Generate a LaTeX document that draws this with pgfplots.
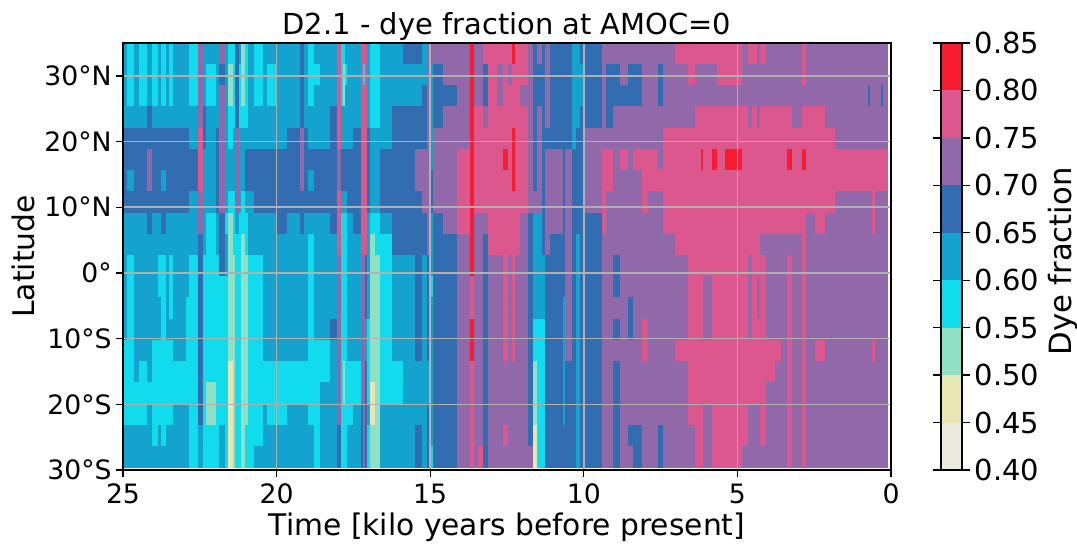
\documentclass[border=0pt]{standalone}
\usepackage{fontspec}
\setmainfont{DejaVu Sans}
\usepackage{pgfplots}
\usepackage{pgfplotstable}
\pgfplotsset{compat=1.18}
\definecolor{c0}{RGB}{234,235,222}
\definecolor{c1}{RGB}{232,230,179}
\definecolor{c2}{RGB}{143,224,196}
\definecolor{c3}{RGB}{16,220,238}
\definecolor{c4}{RGB}{20,162,206}
\definecolor{c5}{RGB}{49,109,176}
\definecolor{c6}{RGB}{145,105,171}
\definecolor{c7}{RGB}{220,87,142}
\definecolor{c8}{RGB}{248,28,48}
\definecolor{gridc}{RGB}{176,176,176}
\pgfplotstableread{
t r0 r1 r2 r3 r4 r5 r6 r7 r8 r9 r10 r11 r12 r13 r14 r15 r16 r17 r18 r19
25.00 62 62 62 62 67 67 67 67 62 62 62 62 62 62 57 57 57 57 62 62
24.87 57 57 57 62 67 67 62 67 62 62 57 57 57 57 57 57 57 57 62 62
24.64 62 62 62 62 67 67 67 67 62 62 62 62 62 62 62 62 57 57 62 62
24.48 57 57 57 62 67 67 67 67 62 62 62 62 62 62 62 57 57 57 62 62
24.22 62 62 62 67 67 72 72 67 67 62 62 62 62 62 62 62 57 62 62 62
24.06 57 57 57 62 67 67 67 67 62 62 62 62 62 62 57 57 57 57 57 62
23.86 62 62 62 62 67 67 67 67 62 62 57 57 62 62 57 57 57 57 62 62
23.76 57 57 57 62 67 67 62 67 67 62 57 57 57 57 57 57 57 57 57 62
23.60 62 62 62 62 67 67 67 67 62 62 62 62 62 62 57 57 57 57 62 62
23.50 57 57 57 62 67 67 67 67 62 62 57 57 57 62 57 57 57 57 62 62
23.37 62 62 62 62 67 67 67 67 62 62 62 62 62 62 62 57 57 62 62 62
22.95 62 62 62 62 67 67 67 67 62 62 62 62 57 57 57 57 57 62 62 62
22.85 57 57 57 62 62 67 67 62 62 62 57 57 57 57 57 57 57 57 57 57
22.56 72 72 72 72 77 77 77 72 72 67 67 67 67 67 67 67 67 67 62 62
22.40 62 62 62 67 67 62 62 62 62 62 57 57 57 57 57 57 57 57 57 57
22.30 62 57 57 62 62 62 62 62 57 57 57 57 57 57 57 57 52 52 57 57
21.97 62 62 62 62 67 67 67 67 62 62 57 57 57 57 57 57 57 57 57 57
21.88 72 67 72 72 72 72 72 72 67 67 67 57 57 57 57 57 57 57 62 62
21.68 62 62 62 62 62 62 62 62 57 62 62 57 57 57 57 57 57 57 57 57
21.58 57 52 52 57 57 62 62 57 52 52 52 52 52 52 52 47 47 47 47 47
21.42 57 57 57 57 62 62 62 57 57 57 52 52 52 52 52 52 52 52 52 52
21.35 67 67 67 67 72 72 72 72 62 57 57 57 57 57 57 57 57 57 57 57
21.22 62 57 57 57 62 62 62 62 57 57 57 57 57 57 57 57 57 57 57 57
21.16 52 52 52 57 62 62 62 57 57 52 52 52 52 52 52 52 52 52 52 52
21.03 57 57 57 57 62 67 67 62 57 57 52 52 52 52 52 52 52 52 57 57
20.93 62 62 62 62 62 67 67 62 62 62 57 57 57 57 57 57 57 57 57 57
20.74 57 57 57 62 62 67 67 67 62 62 57 57 57 57 57 57 57 57 57 62
20.44 62 62 62 62 62 67 67 67 62 62 62 62 62 62 62 57 57 62 62 62
20.31 62 57 57 62 62 67 67 67 62 62 62 62 62 62 62 57 57 57 62 62
19.99 62 62 62 62 62 67 67 67 67 62 62 62 62 62 62 57 57 57 62 62
19.66 62 62 62 62 67 67 67 67 62 62 62 62 62 62 62 57 57 62 62 62
19.24 67 67 67 67 72 72 72 67 67 62 62 62 62 62 62 57 57 62 62 62
19.11 62 62 62 62 67 67 67 67 62 62 62 62 62 62 62 57 57 62 62 62
18.98 57 57 57 62 62 67 62 67 62 57 57 57 57 57 57 57 57 57 62 62
18.78 62 57 62 62 62 67 67 67 62 62 62 62 62 62 57 57 57 57 57 57
18.59 62 62 62 62 62 67 67 67 62 62 62 62 62 62 57 57 62 62 62 62
18.26 62 62 62 67 67 67 67 67 67 62 62 62 62 67 62 62 62 62 62 62
18.03 77 77 77 77 77 72 72 77 77 77 72 72 72 72 72 72 72 72 67 67
17.90 57 57 57 62 62 67 67 62 57 57 57 57 57 57 57 57 57 57 57 57
17.84 57 52 52 62 62 67 67 62 57 57 57 57 57 57 57 52 52 57 57 57
17.77 62 57 62 62 62 67 67 62 57 57 57 57 57 57 57 57 57 57 57 57
17.71 62 62 62 62 62 67 67 67 62 62 62 62 62 62 62 57 57 57 62 62
17.51 62 62 62 62 67 67 67 67 67 62 62 62 62 62 62 57 57 62 62 62
17.25 77 77 77 77 77 77 77 77 77 77 72 72 72 72 72 72 72 67 67 67
17.19 77 57 77 77 77 77 77 77 77 77 72 72 72 72 72 72 72 72 72 72
17.12 77 77 77 77 77 77 77 77 77 77 67 67 67 62 62 67 67 67 67 67
17.06 62 62 62 62 67 67 67 67 62 62 62 62 62 57 57 57 57 62 57 57
16.96 57 57 57 57 62 62 62 62 57 52 52 52 52 52 52 52 47 47 52 52
16.80 57 57 57 57 62 62 62 62 57 57 52 52 52 52 52 52 52 52 52 52
16.63 62 62 62 62 62 67 67 67 62 57 57 57 57 57 57 57 57 62 62 62
16.24 62 62 62 67 67 67 67 67 67 67 62 62 62 62 62 57 57 62 62 62
15.89 67 62 62 67 67 67 67 67 67 67 62 62 62 62 62 62 62 62 62 62
15.49 67 62 62 67 67 72 72 67 67 67 67 67 67 67 67 62 62 62 67 67
15.27 62 62 67 67 67 72 72 72 67 67 62 62 62 62 62 62 62 62 62 62
15.10 72 72 72 72 72 72 72 72 72 72 67 67 67 67 67 62 62 67 67 67
15.01 72 62 62 62 62 62 67 67 62 62 62 57 62 62 62 62 62 62 62 57
14.91 72 67 67 67 72 72 72 72 67 67 67 67 67 67 67 67 67 67 67 67
14.58 72 72 67 72 72 72 72 72 72 67 67 67 67 67 67 67 67 67 67 67
14.13 72 72 72 72 72 77 77 77 77 72 72 72 72 72 72 72 72 72 72 72
13.70 82 82 82 82 82 82 82 82 82 82 82 77 77 82 82 77 77 77 77 77
13.57 72 72 72 77 77 77 77 77 72 72 72 72 72 72 72 72 72 72 72 72
13.44 72 72 72 77 77 77 77 77 72 72 72 72 72 72 72 72 72 72 72 77
13.28 77 67 67 72 77 77 77 77 72 67 67 67 67 67 67 67 67 67 67 67
13.12 77 77 77 77 77 77 77 77 77 77 72 72 72 72 72 72 72 72 72 72
12.83 77 72 72 77 77 77 77 77 77 77 72 72 72 72 72 72 72 72 72 72
12.63 77 77 77 77 77 82 77 77 77 77 77 77 77 77 77 72 72 72 77 72
12.47 77 72 77 77 77 77 77 77 77 77 72 72 72 72 72 72 72 72 72 72
12.34 82 77 77 77 82 82 82 77 77 77 77 77 77 77 77 72 72 72 72 72
12.24 77 77 77 77 77 77 77 77 77 77 72 72 72 72 72 72 72 72 72 72
12.08 77 77 72 77 77 77 77 77 72 72 72 72 72 72 72 72 72 72 72 72
11.82 72 72 72 72 72 72 72 72 67 67 67 67 67 67 67 67 67 67 67 72
11.65 67 67 67 67 67 67 67 72 62 62 62 62 62 57 57 52 52 52 47 47
11.52 72 67 67 72 72 72 72 72 62 62 62 62 62 57 57 57 57 57 57 57
11.36 67 67 67 67 67 67 67 67 67 67 62 62 62 57 57 57 57 57 57 57
11.26 72 72 72 72 67 72 72 72 72 72 67 67 67 67 67 67 67 67 67 67
11.10 67 67 67 67 67 72 72 72 72 67 67 67 67 67 67 67 67 67 67 67
10.68 67 67 67 67 67 67 67 67 67 67 67 67 62 62 62 62 62 62 67 67
10.61 67 67 67 67 67 72 72 72 72 72 72 72 72 72 72 67 67 67 67 67
10.38 62 62 62 62 62 67 67 67 67 67 67 67 67 67 67 67 67 67 67 67
10.25 62 62 62 62 67 67 67 67 67 62 62 62 62 62 62 62 62 62 62 62
10.12 67 62 62 67 67 67 67 67 67 67 67 67 67 67 67 67 67 67 67 67
9.96 67 67 67 67 72 72 72 72 67 67 67 67 67 67 67 67 67 67 67 67
9.41 72 72 72 72 72 77 77 77 77 72 72 72 72 72 72 72 72 72 72 72
9.28 72 67 67 67 72 77 77 72 72 72 72 72 72 72 72 72 72 72 72 72
9.05 72 67 67 72 72 72 72 72 72 72 67 67 72 67 72 67 67 67 67 67
8.82 72 72 67 72 72 77 72 72 72 72 72 72 72 72 72 72 72 72 72 72
8.56 72 67 67 72 72 72 72 72 72 72 72 72 67 67 72 72 72 72 67 72
8.40 72 67 67 72 72 77 72 72 72 72 72 72 72 72 72 72 72 72 67 67
8.11 72 72 72 72 72 77 77 77 72 72 72 72 72 77 77 72 72 72 72 72
7.91 72 72 72 72 72 77 77 72 72 72 72 72 72 72 72 72 72 72 72 72
7.58 72 67 67 72 72 72 77 72 72 72 72 72 72 72 72 72 72 72 67 67
7.42 72 72 72 72 77 77 77 77 77 72 72 72 72 72 72 72 72 72 72 72
7.03 77 72 72 72 77 77 77 77 77 77 72 72 72 72 77 72 72 72 72 72
6.61 77 77 72 72 77 77 77 77 77 77 77 77 77 77 77 77 77 77 72 72
6.38 77 72 72 77 77 77 77 77 77 77 77 77 77 77 77 77 77 77 77 77
6.18 77 72 72 77 77 82 77 77 77 77 77 77 77 77 77 77 77 77 77 77
6.12 77 72 72 77 77 77 77 77 77 77 77 72 72 72 77 77 77 72 72 72
5.83 77 72 72 77 77 82 77 77 77 77 77 77 77 77 77 77 77 77 77 77
5.66 77 77 72 77 77 77 77 77 77 77 77 77 77 77 77 77 77 77 77 77
5.40 77 77 72 77 77 82 77 77 77 77 77 77 77 77 77 77 77 77 77 77
5.08 77 77 72 77 77 82 77 77 77 77 77 77 77 77 77 77 77 77 77 77
4.85 72 72 72 77 77 77 77 77 77 77 77 77 77 77 77 77 77 77 77 72
4.65 77 72 72 72 77 77 77 77 77 77 72 72 72 72 77 77 77 72 72 72
4.52 77 72 72 77 77 77 77 77 77 77 77 77 77 77 77 77 77 72 72 72
4.36 72 72 72 72 77 77 77 77 77 77 77 72 72 77 77 77 77 72 72 72
4.26 77 72 72 77 77 77 77 77 77 72 77 77 77 77 77 77 77 77 77 72
4.07 72 72 72 77 77 77 77 77 77 72 72 72 72 72 77 77 72 72 72 72
3.78 72 72 72 77 77 77 77 77 77 72 72 72 72 72 77 72 72 72 72 72
3.58 72 72 72 77 77 77 77 77 77 72 72 72 72 72 72 72 72 72 72 72
3.39 72 72 72 77 77 82 77 77 77 72 77 77 77 77 77 77 77 77 77 77
3.22 72 72 72 72 77 77 77 77 77 72 72 72 72 72 72 72 72 72 72 72
2.90 77 77 72 77 77 82 77 77 77 77 77 77 77 77 77 77 77 77 77 77
2.77 72 72 72 77 77 77 77 77 72 72 72 72 72 72 72 72 72 72 72 72
2.47 72 72 72 77 77 77 77 77 77 72 72 72 72 72 77 72 72 72 72 72
2.15 72 72 72 72 77 77 77 77 72 72 72 72 72 72 72 72 72 72 72 72
1.82 72 72 72 72 72 77 77 72 72 72 72 72 72 72 72 72 72 72 72 72
1.24 72 72 72 72 72 77 77 72 72 72 72 72 72 72 72 72 72 72 72 72
0.75 72 72 67 72 72 77 77 72 72 72 72 72 72 72 72 72 72 72 72 72
0.68 72 72 72 72 72 77 77 72 72 72 72 72 72 72 72 72 72 72 72 72
0.62 72 72 72 72 72 77 77 77 77 72 72 72 72 72 77 72 72 72 72 72
0.52 72 72 72 72 72 77 77 72 72 72 72 72 72 72 72 72 72 72 72 72
0.33 72 72 67 72 72 77 77 72 72 72 72 72 72 72 72 72 72 72 72 72
0.26 72 72 72 72 72 77 77 72 72 72 72 72 72 72 72 72 72 72 72 72
0.10 72 72 72 72 72 77 77 72 72 72 72 72 72 72 72 72 72 72 72 72
}\dye
\begin{document}
\begin{tikzpicture}
\path[use as bounding box] (-92.25pt,-57pt) rectangle (715.5pt,352.5pt);
\begin{axis}[
  at={(0pt,0pt)}, anchor=south west, scale only axis,
  width=576pt, height=320.25pt,
  xmin=0, xmax=25, ymin=-30, ymax=35, x dir=reverse,
  axis on top, axis line style={line width=1.1pt},
  every tick/.style={black, line width=1pt},
  tick align=outside, tickpos=left, major tick length=5pt,
  xtick={25,20,15,10,5,0},
  ytick={-30,-20,-10,0,10,20,30},
  yticklabels={30°S,20°S,10°S,0°,10°N,20°N,30°N},
  grid=major, grid style={gridc, line width=1.1pt},
  tick label style={font=\fontsize{20}{22}\selectfont},
  xticklabel style={yshift=-2pt},
  /pgf/number format/assume math mode=true,
  xlabel={Time [kilo years before present]},
  ylabel={Latitude},
  label style={font=\fontsize{22.3}{24}\selectfont},
  title={D2.1 - dye fraction at AMOC=0},
  title style={font=\fontsize{21.7}{24}\selectfont, yshift=-8pt},
  colormap={dye}{rgb255=(234,235,222) rgb255=(232,230,179) rgb255=(143,224,196) rgb255=(16,220,238) rgb255=(20,162,206) rgb255=(49,109,176) rgb255=(145,105,171) rgb255=(220,87,142) rgb255=(248,28,48)},
  colormap access=piecewise constant,
  point meta min=40, point meta max=85,
]
\pgfplotsinvokeforeach{0,...,19}{
  \addplot[mesh, shader=flat corner, line width=16.2pt, line cap=butt, no markers, point meta=explicit]
    table[x=t, y expr={35-3.23*(#1+0.5)}, meta=r#1] {\dye};
}
\end{axis}
\begin{axis}[
  at={(613.5pt,0pt)}, anchor=south west, scale only axis,
  width=15.75pt, height=320.25pt,
  xmin=0, xmax=1, ymin=0.40, ymax=0.85,
  axis on top, axis line style={line width=1.1pt},
  xtick=\empty,
  ytick={0.40,0.45,0.50,0.55,0.60,0.65,0.70,0.75,0.80,0.85},
  yticklabel pos=right, ylabel near ticks,
  tick align=outside, major tick length=6pt,
  every tick/.style={black, line width=1pt},
  yticklabel style={font=\fontsize{21.7}{24}\selectfont, /pgf/number format/fixed, /pgf/number format/fixed zerofill, /pgf/number format/precision=2, /pgf/number format/assume math mode=true},
  ylabel={Dye fraction},
  ylabel style={font=\fontsize{23}{25}\selectfont, xshift=-3.75pt},
]
\addplot[fill=c0, draw=none] coordinates {(0,0.40) (1,0.40) (1,0.45) (0,0.45)} -- cycle;
\addplot[fill=c1, draw=none] coordinates {(0,0.45) (1,0.45) (1,0.50) (0,0.50)} -- cycle;
\addplot[fill=c2, draw=none] coordinates {(0,0.50) (1,0.50) (1,0.55) (0,0.55)} -- cycle;
\addplot[fill=c3, draw=none] coordinates {(0,0.55) (1,0.55) (1,0.60) (0,0.60)} -- cycle;
\addplot[fill=c4, draw=none] coordinates {(0,0.60) (1,0.60) (1,0.65) (0,0.65)} -- cycle;
\addplot[fill=c5, draw=none] coordinates {(0,0.65) (1,0.65) (1,0.70) (0,0.70)} -- cycle;
\addplot[fill=c6, draw=none] coordinates {(0,0.70) (1,0.70) (1,0.75) (0,0.75)} -- cycle;
\addplot[fill=c7, draw=none] coordinates {(0,0.75) (1,0.75) (1,0.80) (0,0.80)} -- cycle;
\addplot[fill=c8, draw=none] coordinates {(0,0.80) (1,0.80) (1,0.85) (0,0.85)} -- cycle;
\end{axis}
\end{tikzpicture}
\end{document}
